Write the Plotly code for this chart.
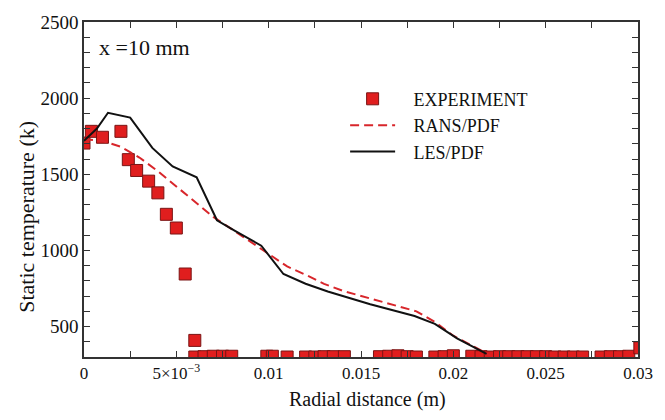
import plotly.graph_objects as go

# ---------------- data ----------------
exp_x = [0.0000, 0.0004, 0.0010, 0.0020, 0.0024, 0.00285, 0.0035, 0.0040, 0.00446, 0.0050, 0.00548, 0.0060,
         0.0060, 0.0065, 0.0070, 0.0075, 0.0080,
         0.0099, 0.0102, 0.0110,
         0.0120, 0.0125, 0.0130, 0.0135, 0.0141,
         0.0160, 0.0165, 0.0170, 0.0175, 0.0180,
         0.0190, 0.0195, 0.0200,
         0.0210, 0.0215, 0.0220, 0.0225, 0.0230, 0.0235, 0.0240, 0.0245, 0.0250, 0.0255, 0.0260, 0.0265, 0.0270,
         0.0280, 0.0285, 0.0290, 0.0295, 0.0301]
exp_y = [1705, 1782, 1743, 1782, 1596, 1525, 1455, 1378, 1237, 1147, 845, 409,
         300, 302, 305, 305, 305,
         305, 305, 300,
         300, 300, 302, 302, 302,
         302, 305, 308, 302, 300,
         300, 302, 308,
         305, 302, 300, 302, 302, 302, 302, 302, 302, 300, 300, 300, 300,
         300, 302, 302, 305, 360]

rans_x = [0.0000, 0.0010, 0.0020, 0.0030, 0.0040, 0.0050, 0.0060, 0.0070, 0.0080, 0.0090, 0.0100, 0.0110,
          0.0120, 0.0130, 0.0140, 0.0150, 0.0160, 0.0170, 0.0180, 0.0190, 0.0200, 0.0210, 0.0216, 0.0220]
rans_y = [1730, 1720, 1680, 1610, 1520, 1420, 1320, 1220, 1140, 1060, 980, 895,
          840, 780, 735, 700, 670, 635, 600, 530, 440, 375, 335, 310]

les_x = [0.0000, 0.0007, 0.0013, 0.0025, 0.0037, 0.0048, 0.0061, 0.0072, 0.0082, 0.0096, 0.0108, 0.0120,
         0.0132, 0.0155, 0.0179, 0.0190, 0.0202, 0.0212, 0.0218]
les_y = [1720, 1800, 1904, 1872, 1673, 1551, 1480, 1198, 1127, 1031, 845, 781,
         730, 646, 569, 518, 422, 358, 320]

x_tickvals = [0, 0.005, 0.01, 0.015, 0.02, 0.025, 0.03]
x_ticktext = ["0", "5×10<sup>−3</sup>", "0.01", "0.015", "0.02", "0.025", "0.03"]
x_minorvals = [0.0025, 0.0075, 0.0125, 0.0175, 0.0225, 0.0275]

FONT = "Liberation Serif"
PAD = "\u00a0\u00a0\u00a0"

fig = go.Figure()
fig.add_trace(go.Scatter(
    x=exp_x, y=exp_y, mode="markers", name=PAD + "EXPERIMENT",
    marker=dict(symbol="square", size=12, color="#E01E1E",
                line=dict(color="#7A1414", width=1)),
))
fig.add_trace(go.Scatter(
    x=rans_x, y=rans_y, mode="lines", name=PAD + "RANS/PDF",
    line=dict(color="#D8262B", width=2, dash="9px,5px"),
))
fig.add_trace(go.Scatter(
    x=les_x, y=les_y, mode="lines", name=PAD + "LES/PDF",
    line=dict(color="#111111", width=2),
))

axis_common = dict(
    showline=True, linecolor="#333333", linewidth=1.5, mirror="ticks",
    ticks="inside", ticklen=6, tickcolor="#333333", tickwidth=1,
    showgrid=False, zeroline=False,
)

fig.update_xaxes(
    range=[0, 0.03], tickmode="array", tickvals=x_tickvals, ticktext=x_ticktext,
    tickfont=dict(family=FONT, size=17, color="#111111"),
    minor=dict(tickmode="array", tickvals=x_minorvals, ticks="inside", ticklen=6,
               tickcolor="#333333", showgrid=False),
    **axis_common,
)
fig.update_yaxes(
    range=[300, 2500], tickmode="linear", tick0=0, dtick=500,
    tickfont=dict(family=FONT, size=19, color="#111111"),
    minor=dict(dtick=100, ticks="inside", ticklen=6, tickcolor="#333333", showgrid=False),
    **axis_common,
)

W, H = 665, 420
L, R, T, B = 84, 23, 14, 63
pw, ph = W - L - R, H - T - B

def px2paper(px, py):
    return (px - L) / pw, (H - B - py) / ph

ytx, yty = px2paper(26, 213)
xtx, xty = px2paper(370, 401)
lbx, lby = px2paper(97, 40)
lgx, lgy = px2paper(347, 74)

fig.update_layout(
    width=W, height=H,
    margin=dict(l=L, r=R, t=T, b=B),
    paper_bgcolor="white", plot_bgcolor="white",
    font=dict(family=FONT, color="#111111"),
    showlegend=True,
    legend=dict(x=lgx, y=lgy, xanchor="left", yanchor="top",
                font=dict(family=FONT, size=18, color="#111111"),
                bgcolor="rgba(0,0,0,0)", itemwidth=45, tracegroupgap=0),
    annotations=[
        dict(text="Static temperature (k)", xref="paper", yref="paper", x=ytx, y=yty,
             textangle=-90, showarrow=False, font=dict(family=FONT, size=22, color="#111111"),
             xanchor="center", yanchor="middle"),
        dict(text="Radial distance (m)", xref="paper", yref="paper", x=xtx, y=xty,
             showarrow=False, font=dict(family=FONT, size=20, color="#111111"),
             xanchor="center", yanchor="middle"),
        dict(text="x =10 mm", xref="paper", yref="paper", x=lbx, y=lby,
             showarrow=False, font=dict(family=FONT, size=22, color="#111111"),
             xanchor="left", yanchor="middle"),
    ],
)

fig.write_html("out.html")
